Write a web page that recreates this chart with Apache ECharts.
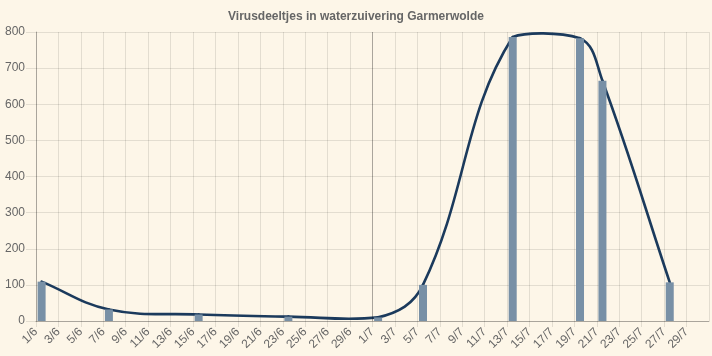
<!DOCTYPE html>
<html>
<head>
<meta charset="utf-8">
<script src="https://cdn.jsdelivr.net/npm/echarts@6/dist/echarts.min.js"></script>
<style>
html,body{margin:0;padding:0;background:#fdf6e8;}
#chart{width:712px;height:356px;}
</style>
</head>
<body>
<div id="chart"></div>
<script>
// ---- data ----
const chartTitle = 'Virusdeeltjes in waterzuivering Garmerwolde';
const sampleDates  = ['1/6','7/6','15/6','23/6','1/7','5/7','13/7','19/7','21/7','27/7'];
const sampleValues = [109, 32, 18, 12, 10, 100, 786, 783, 665, 107];
const tickLabels = ['1/6','3/6','5/6','7/6','9/6','11/6','13/6','15/6','17/6','19/6','21/6','23/6','25/6','27/6','29/6',
                    '1/7','3/7','5/7','7/7','9/7','11/7','13/7','15/7','17/7','19/7','21/7','23/7','25/7','27/7','29/7'];
const yTicks = [0, 100, 200, 300, 400, 500, 600, 700, 800];
const monthStart = '1/7';
const lastDay = '31/7';

// day number counted from 1 June (June has 30 days)
function dayOf(s) {
  const p = s.split('/').map(Number);
  return (p[1] === 6 ? 0 : 30) + p[0] - 1;
}
// samples were taken around midday
const sampleX = sampleDates.map(d => dayOf(d) + 0.5);
const barData = sampleX.map((x, i) => [x, sampleValues[i]]);

const font = "'Liberation Sans', Arial, Helvetica, sans-serif";
const gridCol = 'rgba(0,0,0,0.1)';
const zeroCol = 'rgba(0,0,0,0.25)';

// spline (tension 0.4) with control points kept inside the plot area
function renderCurve(params, api) {
  const cs = params.coordSys;
  const pts = sampleX.map((x, i) => api.coord([x, sampleValues[i]]));
  const t = 0.4;
  const left = cs.x, right = cs.x + cs.width, top = cs.y, bottom = cs.y + cs.height;
  const clampX = v => Math.max(left, Math.min(right, v));
  const clampY = v => Math.max(top, Math.min(bottom, v));
  const cps = pts.map((p, i) => {
    const prev = pts[i - 1] || p, next = pts[i + 1] || p;
    const d01 = Math.hypot(p[0] - prev[0], p[1] - prev[1]);
    const d12 = Math.hypot(next[0] - p[0], next[1] - p[1]);
    let s01 = d01 / (d01 + d12), s12 = d12 / (d01 + d12);
    if (isNaN(s01)) s01 = 0;
    if (isNaN(s12)) s12 = 0;
    const fa = t * s01, fb = t * s12;
    return {
      px: clampX(p[0] - fa * (next[0] - prev[0])), py: clampY(p[1] - fa * (next[1] - prev[1])),
      nx: clampX(p[0] + fb * (next[0] - prev[0])), ny: clampY(p[1] + fb * (next[1] - prev[1]))
    };
  });
  const children = [];
  for (let i = 1; i < pts.length; i++) {
    children.push({
      type: 'bezierCurve',
      shape: {
        x1: pts[i - 1][0], y1: pts[i - 1][1], x2: pts[i][0], y2: pts[i][1],
        cpx1: cps[i - 1].nx, cpy1: cps[i - 1].ny, cpx2: cps[i].px, cpy2: cps[i].py
      },
      style: { fill: null, stroke: '#1b3a5c', lineWidth: 2.6, lineCap: 'round' }
    });
  }
  return { type: 'group', children: children };
}

const chart = echarts.init(document.getElementById('chart'), null, { renderer: 'canvas' });
chart.setOption({
  animation: false,
  backgroundColor: '#fdf6e8',
  title: {
    text: chartTitle, left: 'center', top: 6,
    textStyle: { fontFamily: font, fontSize: 12, fontWeight: 'bold', color: '#666' }
  },
  grid: { left: 36, right: 3, top: 32, bottom: 35, containLabel: false },
  xAxis: {
    type: 'value', min: 0, max: dayOf(lastDay), interval: 2,
    axisLine: { show: true, lineStyle: { color: zeroCol, width: 1 } },
    axisTick: { show: true, length: 6, lineStyle: { color: gridCol } },
    splitLine: { show: true, lineStyle: { color: gridCol, width: 1 } },
    axisLabel: {
      rotate: 45, margin: 9, fontFamily: font, fontSize: 12, color: '#666',
      showMaxLabel: false,
      formatter: v => tickLabels[Math.round(v / 2)] || ''
    }
  },
  yAxis: {
    type: 'value', min: yTicks[0], max: yTicks[yTicks.length - 1], interval: yTicks[1] - yTicks[0],
    axisLine: { show: true, lineStyle: { color: zeroCol, width: 1 } },
    axisTick: { show: true, length: 10, lineStyle: { color: gridCol } },
    splitLine: { show: true, lineStyle: { color: gridCol, width: 1 } },
    axisLabel: { margin: 11, fontFamily: font, fontSize: 12, color: '#666' }
  },
  series: [
    {
      type: 'bar', data: barData, barWidth: 8,
      itemStyle: { color: '#7890a6' },
      markLine: {
        silent: true, symbol: 'none', label: { show: false },
        lineStyle: { color: zeroCol, width: 1, type: 'solid' },
        data: [{ xAxis: dayOf(monthStart) }]
      }
    },
    {
      type: 'custom', renderItem: renderCurve, clip: false, silent: true,
      data: [[sampleX[0], sampleValues[0]]]
    }
  ]
});
</script>
</body>
</html>
